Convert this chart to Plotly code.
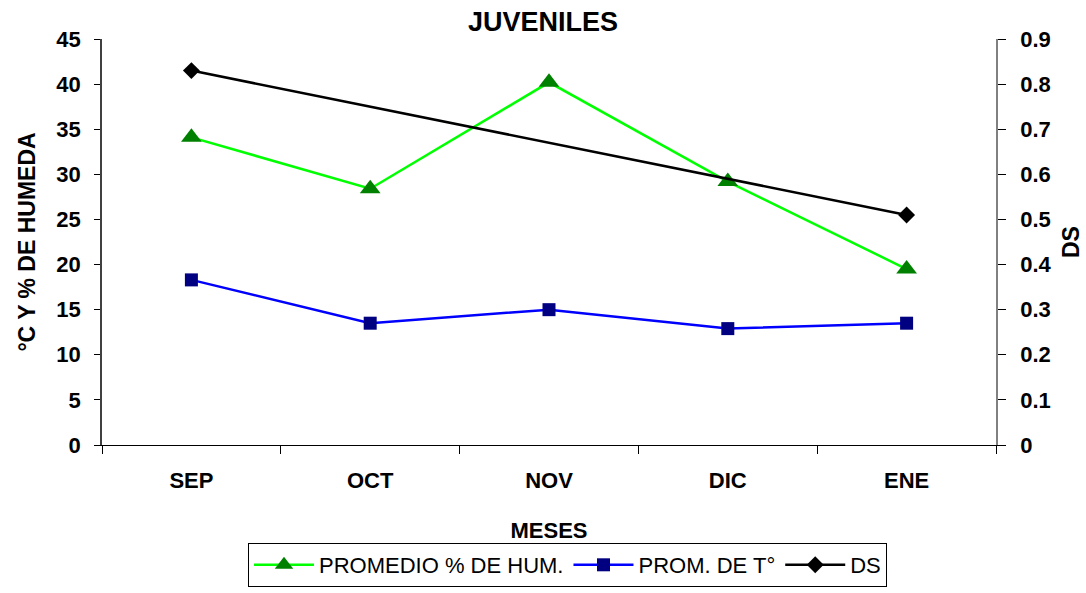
import plotly.graph_objects as go

# Monthly values
meses = ["SEP", "OCT", "NOV", "DIC", "ENE"]
humedad = [34.1, 28.4, 40.2, 29.2, 19.5]
temperatura = [18.3, 13.5, 15.0, 12.9, 13.5]
ds = [0.83, None, None, None, 0.51]

left_ticks = [0, 5, 10, 15, 20, 25, 30, 35, 40, 45]
right_ticks = [0, 0.1, 0.2, 0.3, 0.4, 0.5, 0.6, 0.7, 0.8, 0.9]
right_labels = ["0", "0.1", "0.2", "0.3", "0.4", "0.5", "0.6", "0.7", "0.8", "0.9"]

FONT = "Liberation Sans, Arial, sans-serif"

fig = go.Figure()

fig.add_trace(go.Scatter(
    x=meses, y=humedad, name="PROMEDIO % DE HUM.",
    mode="lines+markers",
    line=dict(color="#00FF00", width=2.5),
    marker=dict(symbol="triangle-up", size=18, color="#008000",
                line=dict(width=0)),
))
fig.add_trace(go.Scatter(
    x=meses, y=temperatura, name="PROM. DE T°",
    mode="lines+markers",
    line=dict(color="#0000FF", width=2.5),
    marker=dict(symbol="square", size=13, color="#000080",
                line=dict(width=0)),
))
fig.add_trace(go.Scatter(
    x=meses, y=ds, name="DS", yaxis="y2",
    mode="lines+markers", connectgaps=True,
    line=dict(color="#000000", width=2.5),
    marker=dict(symbol="diamond", size=13, color="#000000",
                line=dict(width=0)),
))

fig.update_layout(
    width=1086, height=593,
    margin=dict(l=102, r=90, t=39, b=148, pad=0, autoexpand=False),
    paper_bgcolor="white", plot_bgcolor="white",
    font=dict(family=FONT, color="black"),
    title=dict(text="<b>JUVENILES</b>", x=0.5, xanchor="center",
               y=1 - 22 / 593, yanchor="middle",
               font=dict(size=27, family=FONT, color="black")),
    showlegend=True,
    legend=dict(
        orientation="h", x=0.5207, xanchor="center",
        yref="container", y=1 - 543 / 593, yanchor="top",
        bordercolor="black", borderwidth=1,
        font=dict(size=22, family=FONT, color="black"),
        itemwidth=60, tracegroupgap=0,
    ),
    xaxis=dict(
        type="category", range=[-0.5, 4.5], automargin=False,
        showgrid=False, zeroline=False,
        showline=True, linecolor="black", linewidth=1,
        ticks="outside", ticklen=8, tickcolor="black",
        tickson="boundaries",
        tickfont=dict(size=22, family=FONT, color="black", weight="bold"),
        ticklabelstandoff=16,
        title=dict(text="<b>MESES</b>", standoff=30,
                   font=dict(size=22, family=FONT, color="black")),
    ),
    yaxis=dict(
        range=[0, 45], tickvals=left_ticks, automargin=False,
        showgrid=False, zeroline=False,
        showline=True, linecolor="#404040", linewidth=1.5,
        ticks="outside", ticklen=6, tickcolor="black",
        tickfont=dict(size=22, family=FONT, color="black", weight="bold"),
        ticklabelstandoff=9,
        title=dict(text="<b>°C Y % DE HUMEDA</b>", standoff=14,
                   font=dict(size=23, family=FONT, color="black")),
    ),
    yaxis2=dict(
        range=[0, 0.9], tickvals=right_ticks, ticktext=right_labels,
        automargin=False,
        overlaying="y", side="right",
        showgrid=False, zeroline=False,
        showline=True, linecolor="#808080", linewidth=1.5,
        ticks="outside", ticklen=8, tickcolor="black",
        tickfont=dict(size=22, family=FONT, color="black", weight="bold"),
        ticklabelstandoff=10,
        title=dict(text="<b>DS</b>", standoff=12,
                   font=dict(size=23, family=FONT, color="black")),
    ),
)

fig.write_html("out.html")
